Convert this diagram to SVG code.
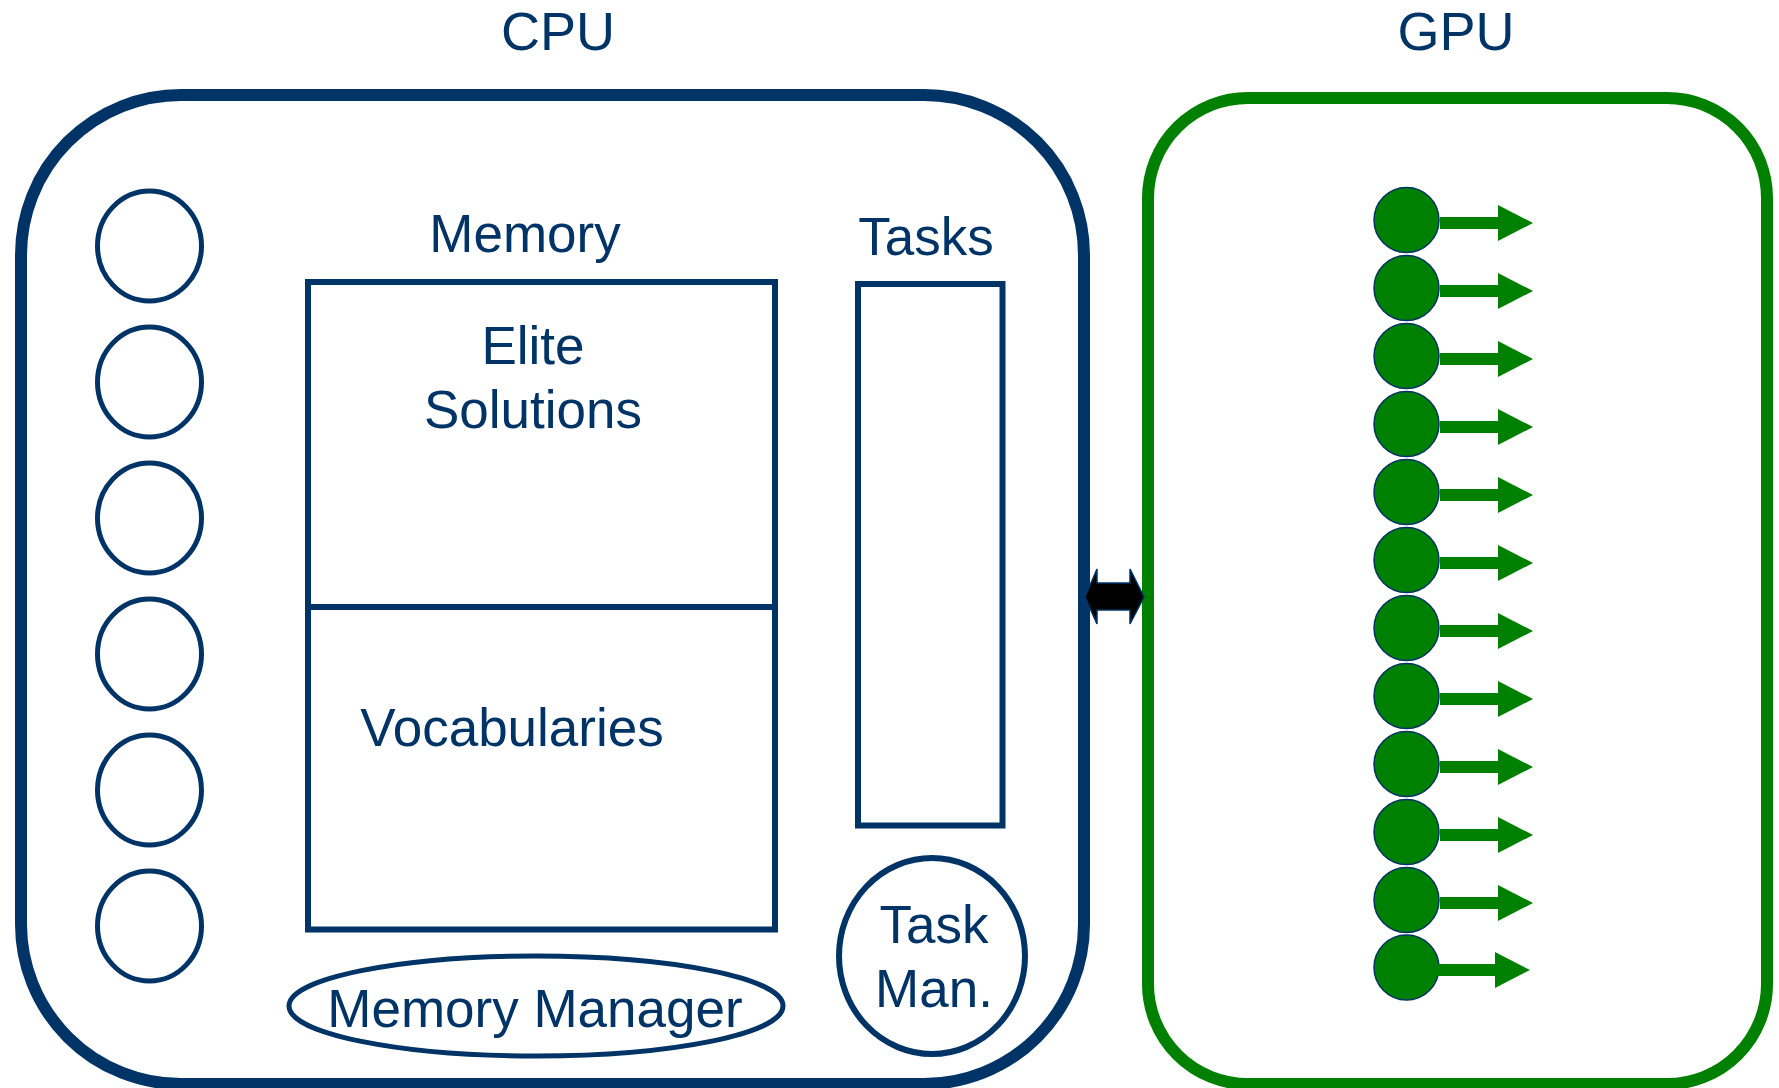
<svg xmlns="http://www.w3.org/2000/svg" width="1779" height="1088" viewBox="0 0 1779 1088">
<defs>
<style>
.lbl{font-family:"Liberation Sans",Arial,sans-serif;font-size:53px;fill:#003366;text-anchor:middle}
.ttl{font-family:"Liberation Sans",Arial,sans-serif;font-size:54px;fill:#003366;text-anchor:middle}
.nav{fill:none;stroke:#003366;stroke-width:6}
.core{fill:none;stroke:#003366;stroke-width:5}
.dot{fill:#008000;stroke:#003366;stroke-width:1.5}
.garr{fill:#008000}
</style>
<g id="gArrow"><path class="garr" d="M1440,217 H1498 V205 L1533,223 L1498,241 V229 H1440 Z"/></g>
</defs>
<rect width="1779" height="1088" fill="#ffffff"/>
<text class="ttl" x="558" y="50">CPU</text>
<text class="ttl" x="1456" y="50">GPU</text>
<g id="cpu"><rect x="21" y="95" width="1063" height="989" rx="160" ry="160" fill="none" stroke="#003366" stroke-width="12"/></g>
<g id="gpu"><rect x="1148" y="98" width="619" height="986" rx="100" ry="100" fill="none" stroke="#008000" stroke-width="12"/></g>
<g id="cpu-cores">
<ellipse class="core" cx="149.5" cy="246" rx="52" ry="55"/>
<ellipse class="core" cx="149.5" cy="382" rx="52" ry="55"/>
<ellipse class="core" cx="149.5" cy="518" rx="52" ry="55"/>
<ellipse class="core" cx="149.5" cy="654" rx="52" ry="55"/>
<ellipse class="core" cx="149.5" cy="790" rx="52" ry="55"/>
<ellipse class="core" cx="149.5" cy="926" rx="52" ry="55"/>
</g>
<g id="memory">
<text class="lbl" x="525" y="252">Memory</text>
<rect class="nav" x="308" y="282" width="467" height="647.5"/>
<line class="nav" x1="308" y1="607" x2="775" y2="607"/>
<text class="lbl" x="533" y="364">Elite</text>
<text class="lbl" x="533" y="428">Solutions</text>
<text class="lbl" x="512" y="746">Vocabularies</text>
</g>
<g id="memory-manager">
<ellipse class="core" cx="536" cy="1006" rx="247" ry="50"/>
<text class="lbl" x="535" y="1027">Memory Manager</text>
</g>
<g id="tasks">
<text class="lbl" x="926" y="255">Tasks</text>
<rect class="nav" x="858" y="284" width="144.5" height="541.5"/>
</g>
<g id="task-manager">
<ellipse class="nav" cx="932" cy="956" rx="93" ry="98"/>
<text class="lbl" x="934" y="943">Task</text>
<text class="lbl" x="934" y="1007">Man.</text>
</g>
<g id="gpu-threads">
<circle class="dot" cx="1406.5" cy="220" r="32.5"/>
<circle class="dot" cx="1406.5" cy="288" r="32.5"/>
<circle class="dot" cx="1406.5" cy="356" r="32.5"/>
<circle class="dot" cx="1406.5" cy="424" r="32.5"/>
<circle class="dot" cx="1406.5" cy="492" r="32.5"/>
<circle class="dot" cx="1406.5" cy="560" r="32.5"/>
<circle class="dot" cx="1406.5" cy="628" r="32.5"/>
<circle class="dot" cx="1406.5" cy="696" r="32.5"/>
<circle class="dot" cx="1406.5" cy="764" r="32.5"/>
<circle class="dot" cx="1406.5" cy="832" r="32.5"/>
<circle class="dot" cx="1406.5" cy="900" r="32.5"/>
<circle class="dot" cx="1406.5" cy="967.5" r="32.5"/>
</g>
<g id="connectors">
<path d="M1085,597 L1097,569 V583 H1130 V569 L1144,597 L1130,624 V610 H1097 V624 Z" fill="#000000" stroke="#003366" stroke-width="1.5"/>
<use href="#gArrow"/>
<use href="#gArrow" y="68"/>
<use href="#gArrow" y="136"/>
<use href="#gArrow" y="204"/>
<use href="#gArrow" y="272"/>
<use href="#gArrow" y="340"/>
<use href="#gArrow" y="408"/>
<use href="#gArrow" y="476"/>
<use href="#gArrow" y="544"/>
<use href="#gArrow" y="612"/>
<use href="#gArrow" y="680"/>
<use href="#gArrow" x="-3" y="747"/>
</g>
</svg>
